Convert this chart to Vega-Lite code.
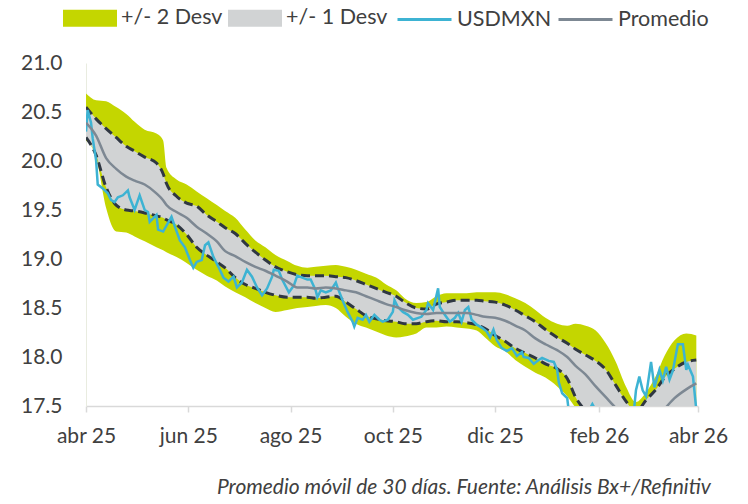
{
  "$schema": "https://vega.github.io/schema/vega-lite/v6.json",
  "width": 612,
  "height": 343,
  "autosize": {"type": "none"},
  "padding": {"left": 86, "top": 63, "right": 50, "bottom": 98},
  "background": "white",
  "config": {
    "view": {"stroke": null},
    "font": "Lato",
    "axis": {"labelFont": "Lato", "labelColor": "#404040", "labelFontSize": 21, "grid": false, "title": null}
  },
  "title": {
    "text": "Promedio móvil de 30 días. Fuente: Análisis Bx+/Refinitiv",
    "orient": "bottom", "anchor": "end", "font": "Lato", "fontSize": 21,
    "fontStyle": "italic", "fontWeight": "normal", "color": "#404040", "offset": 31, "dx": -17
  },
  "datasets": {
    "bands": [
      {"date":"2025-04-01","hi2":20.69,"hi1":20.55,"mean":20.39,"lo1":20.24,"lo2":20.21},
      {"date":"2025-04-07","hi2":20.62,"hi1":20.43,"mean":20.26,"lo1":20.06,"lo2":20.04},
      {"date":"2025-04-13","hi2":20.61,"hi1":20.33,"mean":20.03,"lo1":19.73,"lo2":19.52},
      {"date":"2025-04-19","hi2":20.55,"hi1":20.24,"mean":19.92,"lo1":19.55,"lo2":19.28},
      {"date":"2025-04-25","hi2":20.48,"hi1":20.15,"mean":19.84,"lo1":19.50,"lo2":19.27},
      {"date":"2025-04-30","hi2":20.40,"hi1":20.10,"mean":19.80,"lo1":19.49,"lo2":19.23},
      {"date":"2025-05-06","hi2":20.32,"hi1":20.04,"mean":19.76,"lo1":19.47,"lo2":19.18},
      {"date":"2025-05-13","hi2":20.28,"hi1":19.98,"mean":19.67,"lo1":19.44,"lo2":19.12},
      {"date":"2025-05-17","hi2":20.21,"hi1":19.87,"mean":19.60,"lo1":19.42,"lo2":19.09},
      {"date":"2025-05-19","hi2":19.93,"hi1":19.77,"mean":19.55,"lo1":19.40,"lo2":19.07},
      {"date":"2025-05-25","hi2":19.81,"hi1":19.64,"mean":19.48,"lo1":19.35,"lo2":19.02},
      {"date":"2025-05-31","hi2":19.76,"hi1":19.57,"mean":19.42,"lo1":19.25,"lo2":18.96},
      {"date":"2025-06-06","hi2":19.69,"hi1":19.54,"mean":19.33,"lo1":19.12,"lo2":18.89},
      {"date":"2025-06-12","hi2":19.62,"hi1":19.45,"mean":19.26,"lo1":19.04,"lo2":18.83},
      {"date":"2025-06-18","hi2":19.55,"hi1":19.38,"mean":19.18,"lo1":18.97,"lo2":18.78},
      {"date":"2025-06-23","hi2":19.49,"hi1":19.32,"mean":19.08,"lo1":18.91,"lo2":18.72},
      {"date":"2025-06-29","hi2":19.42,"hi1":19.26,"mean":19.03,"lo1":18.81,"lo2":18.66},
      {"date":"2025-07-05","hi2":19.30,"hi1":19.16,"mean":18.97,"lo1":18.74,"lo2":18.61},
      {"date":"2025-07-11","hi2":19.19,"hi1":19.07,"mean":18.92,"lo1":18.70,"lo2":18.55},
      {"date":"2025-07-17","hi2":19.12,"hi1":18.99,"mean":18.88,"lo1":18.66,"lo2":18.50},
      {"date":"2025-07-23","hi2":19.04,"hi1":18.92,"mean":18.83,"lo1":18.63,"lo2":18.46},
      {"date":"2025-07-30","hi2":18.98,"hi1":18.87,"mean":18.77,"lo1":18.61,"lo2":18.48},
      {"date":"2025-08-05","hi2":18.93,"hi1":18.84,"mean":18.71,"lo1":18.61,"lo2":18.50},
      {"date":"2025-08-11","hi2":18.91,"hi1":18.83,"mean":18.71,"lo1":18.61,"lo2":18.51},
      {"date":"2025-08-16","hi2":18.92,"hi1":18.83,"mean":18.70,"lo1":18.60,"lo2":18.52},
      {"date":"2025-08-22","hi2":18.93,"hi1":18.83,"mean":18.71,"lo1":18.61,"lo2":18.53},
      {"date":"2025-08-28","hi2":18.94,"hi1":18.82,"mean":18.70,"lo1":18.62,"lo2":18.50},
      {"date":"2025-09-03","hi2":18.92,"hi1":18.81,"mean":18.68,"lo1":18.56,"lo2":18.41},
      {"date":"2025-09-09","hi2":18.89,"hi1":18.78,"mean":18.66,"lo1":18.49,"lo2":18.34},
      {"date":"2025-09-15","hi2":18.85,"hi1":18.74,"mean":18.62,"lo1":18.42,"lo2":18.30},
      {"date":"2025-09-21","hi2":18.81,"hi1":18.70,"mean":18.58,"lo1":18.39,"lo2":18.26},
      {"date":"2025-09-27","hi2":18.74,"hi1":18.66,"mean":18.54,"lo1":18.37,"lo2":18.22},
      {"date":"2025-10-03","hi2":18.68,"hi1":18.62,"mean":18.51,"lo1":18.36,"lo2":18.20},
      {"date":"2025-10-08","hi2":18.60,"hi1":18.56,"mean":18.48,"lo1":18.34,"lo2":18.21},
      {"date":"2025-10-15","hi2":18.55,"hi1":18.50,"mean":18.45,"lo1":18.34,"lo2":18.24},
      {"date":"2025-10-21","hi2":18.56,"hi1":18.49,"mean":18.44,"lo1":18.36,"lo2":18.30},
      {"date":"2025-10-27","hi2":18.62,"hi1":18.54,"mean":18.45,"lo1":18.37,"lo2":18.30},
      {"date":"2025-11-02","hi2":18.65,"hi1":18.56,"mean":18.45,"lo1":18.36,"lo2":18.31},
      {"date":"2025-11-08","hi2":18.65,"hi1":18.58,"mean":18.45,"lo1":18.36,"lo2":18.30},
      {"date":"2025-11-14","hi2":18.65,"hi1":18.58,"mean":18.45,"lo1":18.35,"lo2":18.29},
      {"date":"2025-11-20","hi2":18.66,"hi1":18.58,"mean":18.43,"lo1":18.33,"lo2":18.27},
      {"date":"2025-11-25","hi2":18.66,"hi1":18.57,"mean":18.41,"lo1":18.29,"lo2":18.20},
      {"date":"2025-12-01","hi2":18.66,"hi1":18.56,"mean":18.40,"lo1":18.22,"lo2":18.11},
      {"date":"2025-12-07","hi2":18.64,"hi1":18.53,"mean":18.37,"lo1":18.16,"lo2":18.06},
      {"date":"2025-12-13","hi2":18.60,"hi1":18.48,"mean":18.32,"lo1":18.09,"lo2":17.97},
      {"date":"2025-12-19","hi2":18.55,"hi1":18.42,"mean":18.27,"lo1":18.04,"lo2":17.90},
      {"date":"2025-12-25","hi2":18.48,"hi1":18.36,"mean":18.19,"lo1":17.99,"lo2":17.84},
      {"date":"2025-12-31","hi2":18.40,"hi1":18.28,"mean":18.13,"lo1":17.93,"lo2":17.79},
      {"date":"2026-01-07","hi2":18.34,"hi1":18.20,"mean":18.07,"lo1":17.88,"lo2":17.70},
      {"date":"2026-01-13","hi2":18.32,"hi1":18.14,"mean":18.00,"lo1":17.78,"lo2":17.60},
      {"date":"2026-01-18","hi2":18.34,"hi1":18.08,"mean":17.91,"lo1":17.59,"lo2":17.48},
      {"date":"2026-01-24","hi2":18.32,"hi1":18.02,"mean":17.82,"lo1":17.44,"lo2":17.31},
      {"date":"2026-01-30","hi2":18.27,"hi1":17.96,"mean":17.70,"lo1":17.28,"lo2":17.10},
      {"date":"2026-02-05","hi2":18.14,"hi1":17.87,"mean":17.59,"lo1":17.10,"lo2":16.90},
      {"date":"2026-02-11","hi2":17.95,"hi1":17.71,"mean":17.48,"lo1":17.00,"lo2":16.74},
      {"date":"2026-02-17","hi2":17.70,"hi1":17.55,"mean":17.38,"lo1":16.93,"lo2":16.64},
      {"date":"2026-02-23","hi2":17.54,"hi1":17.44,"mean":17.28,"lo1":16.90,"lo2":16.59},
      {"date":"2026-03-01","hi2":17.64,"hi1":17.56,"mean":17.31,"lo1":16.95,"lo2":16.64},
      {"date":"2026-03-07","hi2":17.81,"hi1":17.67,"mean":17.38,"lo1":17.05,"lo2":16.74},
      {"date":"2026-03-12","hi2":18.01,"hi1":17.79,"mean":17.47,"lo1":17.15,"lo2":16.87},
      {"date":"2026-03-18","hi2":18.17,"hi1":17.88,"mean":17.58,"lo1":17.26,"lo2":17.00},
      {"date":"2026-03-25","hi2":18.24,"hi1":17.95,"mean":17.67,"lo1":17.36,"lo2":17.10},
      {"date":"2026-03-31","hi2":18.22,"hi1":17.97,"mean":17.73,"lo1":17.44,"lo2":17.17}
    ],
    "fx": [
      {"date":"2025-04-01","usd":20.30},{"date":"2025-04-02","usd":20.52},{"date":"2025-04-04","usd":20.39},
      {"date":"2025-04-05","usd":20.23},{"date":"2025-04-07","usd":20.01},{"date":"2025-04-08","usd":19.76},
      {"date":"2025-04-11","usd":19.72},{"date":"2025-04-14","usd":19.67},{"date":"2025-04-16","usd":19.60},
      {"date":"2025-04-18","usd":19.58},{"date":"2025-04-20","usd":19.63},{"date":"2025-04-23","usd":19.65},
      {"date":"2025-04-26","usd":19.70},{"date":"2025-04-27","usd":19.63},{"date":"2025-04-30","usd":19.50},
      {"date":"2025-05-02","usd":19.60},{"date":"2025-05-03","usd":19.65},{"date":"2025-05-06","usd":19.50},
      {"date":"2025-05-08","usd":19.48},{"date":"2025-05-09","usd":19.38},{"date":"2025-05-13","usd":19.45},
      {"date":"2025-05-14","usd":19.30},{"date":"2025-05-17","usd":19.28},{"date":"2025-05-20","usd":19.37},
      {"date":"2025-05-22","usd":19.43},{"date":"2025-05-24","usd":19.33},{"date":"2025-05-27","usd":19.19},
      {"date":"2025-05-30","usd":19.12},{"date":"2025-06-02","usd":18.99},{"date":"2025-06-04","usd":18.91},
      {"date":"2025-06-06","usd":18.97},{"date":"2025-06-09","usd":18.99},{"date":"2025-06-11","usd":19.14},
      {"date":"2025-06-13","usd":19.17},{"date":"2025-06-16","usd":19.02},{"date":"2025-06-19","usd":18.92},
      {"date":"2025-06-22","usd":18.81},{"date":"2025-06-25","usd":18.77},{"date":"2025-06-28","usd":18.82},
      {"date":"2025-06-30","usd":18.71},{"date":"2025-07-03","usd":18.76},{"date":"2025-07-06","usd":18.89},
      {"date":"2025-07-09","usd":18.82},{"date":"2025-07-12","usd":18.71},{"date":"2025-07-15","usd":18.63},
      {"date":"2025-07-18","usd":18.70},{"date":"2025-07-21","usd":18.82},{"date":"2025-07-22","usd":18.89},
      {"date":"2025-07-25","usd":18.88},{"date":"2025-07-27","usd":18.79},{"date":"2025-07-31","usd":18.66},
      {"date":"2025-08-03","usd":18.73},{"date":"2025-08-05","usd":18.83},{"date":"2025-08-08","usd":18.81},
      {"date":"2025-08-11","usd":18.79},{"date":"2025-08-13","usd":18.79},{"date":"2025-08-16","usd":18.68},
      {"date":"2025-08-17","usd":18.61},{"date":"2025-08-19","usd":18.68},{"date":"2025-08-22","usd":18.66},
      {"date":"2025-08-25","usd":18.68},{"date":"2025-08-28","usd":18.76},{"date":"2025-08-29","usd":18.71},
      {"date":"2025-09-01","usd":18.58},{"date":"2025-09-04","usd":18.46},{"date":"2025-09-07","usd":18.36},
      {"date":"2025-09-08","usd":18.31},{"date":"2025-09-10","usd":18.40},{"date":"2025-09-13","usd":18.38},
      {"date":"2025-09-15","usd":18.43},{"date":"2025-09-17","usd":18.36},{"date":"2025-09-20","usd":18.43},
      {"date":"2025-09-23","usd":18.38},{"date":"2025-09-25","usd":18.36},{"date":"2025-09-28","usd":18.38},
      {"date":"2025-10-01","usd":18.46},{"date":"2025-10-02","usd":18.58},{"date":"2025-10-04","usd":18.51},
      {"date":"2025-10-07","usd":18.46},{"date":"2025-10-10","usd":18.43},{"date":"2025-10-13","usd":18.38},
      {"date":"2025-10-18","usd":18.41},{"date":"2025-10-21","usd":18.48},{"date":"2025-10-22","usd":18.55},
      {"date":"2025-10-25","usd":18.48},{"date":"2025-10-28","usd":18.70},{"date":"2025-10-29","usd":18.51},
      {"date":"2025-11-01","usd":18.43},{"date":"2025-11-04","usd":18.36},{"date":"2025-11-07","usd":18.40},
      {"date":"2025-11-09","usd":18.45},{"date":"2025-11-11","usd":18.36},{"date":"2025-11-13","usd":18.48},
      {"date":"2025-11-15","usd":18.51},{"date":"2025-11-17","usd":18.38},{"date":"2025-11-20","usd":18.33},
      {"date":"2025-11-23","usd":18.30},{"date":"2025-11-26","usd":18.26},{"date":"2025-11-28","usd":18.20},
      {"date":"2025-11-30","usd":18.28},{"date":"2025-12-02","usd":18.17},{"date":"2025-12-05","usd":18.09},
      {"date":"2025-12-08","usd":18.06},{"date":"2025-12-11","usd":18.09},{"date":"2025-12-14","usd":18.01},
      {"date":"2025-12-17","usd":18.05},{"date":"2025-12-18","usd":18.00},{"date":"2025-12-21","usd":17.99},
      {"date":"2025-12-24","usd":17.93},{"date":"2025-12-27","usd":17.97},{"date":"2025-12-29","usd":17.99},
      {"date":"2026-01-02","usd":17.96},{"date":"2026-01-05","usd":17.95},{"date":"2026-01-07","usd":17.87},
      {"date":"2026-01-08","usd":17.74},{"date":"2026-01-10","usd":17.63},{"date":"2026-01-13","usd":17.58},
      {"date":"2026-01-14","usd":17.44},{"date":"2026-01-18","usd":17.46},{"date":"2026-01-23","usd":17.36},
      {"date":"2026-01-28","usd":17.52},{"date":"2026-02-02","usd":17.36},{"date":"2026-02-07","usd":17.20},
      {"date":"2026-02-13","usd":17.26},{"date":"2026-02-18","usd":17.36},{"date":"2026-02-22","usd":17.49},
      {"date":"2026-02-23","usd":17.66},{"date":"2026-02-25","usd":17.80},{"date":"2026-02-27","usd":17.66},
      {"date":"2026-03-01","usd":17.60},{"date":"2026-03-04","usd":17.95},{"date":"2026-03-06","usd":17.69},
      {"date":"2026-03-09","usd":17.87},{"date":"2026-03-11","usd":17.76},{"date":"2026-03-13","usd":17.90},
      {"date":"2026-03-15","usd":17.77},{"date":"2026-03-17","usd":17.86},{"date":"2026-03-20","usd":18.13},
      {"date":"2026-03-23","usd":18.13},{"date":"2026-03-25","usd":17.87},{"date":"2026-03-26","usd":17.92},
      {"date":"2026-03-29","usd":17.80},{"date":"2026-03-31","usd":17.46}
    ]
  },
  "encoding": {
    "x": {
      "field": "date", "type": "temporal",
      "scale": {"type": "utc", "domain": [{"year": 2025, "month": 4, "date": 1, "utc": true}, {"year": 2026, "month": 4, "date": 1, "utc": true}]},
      "axis": {
        "values": [
          {"year": 2025, "month": 4, "date": 1, "utc": true},
          {"year": 2025, "month": 6, "date": 1, "utc": true},
          {"year": 2025, "month": 8, "date": 1, "utc": true},
          {"year": 2025, "month": 10, "date": 1, "utc": true},
          {"year": 2025, "month": 12, "date": 1, "utc": true},
          {"year": 2026, "month": 2, "date": 1, "utc": true},
          {"year": 2026, "month": 4, "date": 1, "utc": true}
        ],
        "labelExpr": "['ene','feb','mar','abr','may','jun','jul','ago','sep','oct','nov','dic'][utcmonth(datum.value)] + ' ' + utcFormat(datum.value, '%y')",
        "domainColor": "#d9d9d9", "domainWidth": 1.5, "tickColor": "#d9d9d9", "tickWidth": 1.5, "tickSize": 6,
        "labelPadding": 13, "labelFlush": false, "labelOverlap": false
      }
    }
  },
  "layer": [
    {
      "data": {"name": "bands"},
      "mark": {"type": "area", "clip": true, "interpolate": "monotone"},
      "encoding": {
        "y": {
          "field": "lo2", "type": "quantitative",
          "scale": {"domain": [17.5, 21.0], "nice": false, "zero": false},
          "axis": {
            "values": [17.5, 18.0, 18.5, 19.0, 19.5, 20.0, 20.5, 21.0], "format": ".1f",
            "ticks": false, "domainColor": "#e9ece0", "domainWidth": 1, "labelPadding": 24
          }
        },
        "y2": {"field": "hi2"},
        "fill": {
          "datum": "+/- 2 Desv",
          "scale": {"domain": ["+/- 2 Desv", "+/- 1 Desv"], "range": ["#c4d600", "#d1d3d4"]},
          "legend": {
            "orient": "none", "legendX": -23, "legendY": -72, "direction": "horizontal", "columns": 2,
            "title": null, "padding": 0,
            "symbolType": "M-1,-0.315H1V0.315H-1Z", "symbolSize": 2916, "symbolStrokeWidth": 0, "symbolOpacity": 1,
            "labelFont": "Lato", "labelFontSize": 21.5, "labelColor": "#404040", "labelOffset": 4, "columnPadding": 5
          }
        }
      }
    },
    {
      "data": {"name": "bands"},
      "mark": {"type": "area", "clip": true, "interpolate": "monotone"},
      "encoding": {
        "y": {"field": "lo1", "type": "quantitative"},
        "y2": {"field": "hi1"},
        "fill": {"datum": "+/- 1 Desv"}
      }
    },
    {
      "data": {"name": "bands"},
      "mark": {"type": "line", "clip": true, "interpolate": "monotone", "color": "#2f3742", "strokeWidth": 3, "strokeDash": [9, 5]},
      "encoding": {"y": {"field": "hi1", "type": "quantitative"}}
    },
    {
      "data": {"name": "bands"},
      "mark": {"type": "line", "clip": true, "interpolate": "monotone", "color": "#2f3742", "strokeWidth": 3, "strokeDash": [9, 5]},
      "encoding": {"y": {"field": "lo1", "type": "quantitative"}}
    },
    {
      "data": {"name": "fx"},
      "mark": {"type": "line", "clip": true, "strokeWidth": 2.5},
      "encoding": {
        "y": {"field": "usd", "type": "quantitative"},
        "stroke": {
          "datum": "USDMXN",
          "scale": {"domain": ["USDMXN", "Promedio"], "range": ["#3db3d3", "#7d8893"]},
          "legend": {
            "orient": "none", "legendX": 310, "legendY": -72, "direction": "horizontal", "columns": 2,
            "title": null, "padding": 0,
            "symbolType": "stroke", "symbolSize": 2916, "symbolStrokeWidth": 3,
            "labelFont": "Lato", "labelFontSize": 21.5, "labelColor": "#404040", "labelOffset": 4, "columnPadding": 0
          }
        }
      }
    },
    {
      "data": {"name": "bands"},
      "mark": {"type": "line", "clip": true, "interpolate": "monotone", "strokeWidth": 2.5},
      "encoding": {
        "y": {"field": "mean", "type": "quantitative"},
        "stroke": {"datum": "Promedio"}
      }
    }
  ]
}
